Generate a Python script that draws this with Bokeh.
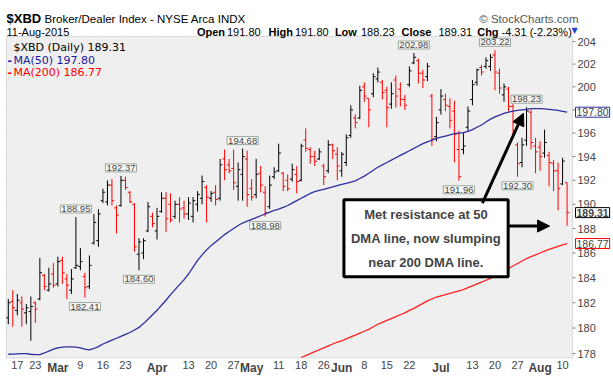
import math
import pandas as pd
from bokeh.plotting import figure
from bokeh.models import ColumnDataSource, Label, Arrow, NormalHead, Range1d, BoxAnnotation
from bokeh.embed import file_html
from bokeh.resources import INLINE

# ---------------- data ----------------
holidays = ["2015-02-16", "2015-04-03", "2015-05-25", "2015-07-03"]
date_str = [d.strftime("%Y-%m-%d") for d in pd.bdate_range("2015-02-12", "2015-08-11")
            if d.strftime("%Y-%m-%d") not in holidays]

opens = [
    180.8, 182.1, 181.4, 182.0, 181.2, 181.3, 182.0, 182.3, 184.2, 183.0,
    184.3, 183.5, 185.4, 183.9, 183.0, 184.8, 184.9, 184.1, 183.3, 186.8,
    187.0, 190.3, 190.2, 191.6, 189.7, 189.9, 192.0, 191.0, 190.0, 185.9,
    186.0, 187.8, 189.0, 187.8, 189.4, 190.5, 190.0, 189.0, 190.0, 189.7,
    189.2, 189.0, 190.0, 190.5, 191.4, 190.5, 191.0, 190.5, 193.8, 193.3,
    193.0, 191.5, 192.5, 193.8, 191.3, 190.8, 192.6, 191.0, 189.8, 192.3,
    192.8, 192.6, 192.0, 192.1, 192.5, 192.0, 195.4, 194.6, 194.0, 193.8,
    193.2, 192.8, 195.0, 194.2, 192.8, 193.5, 195.8, 197.3, 197.3, 200.0,
    199.0, 199.4, 200.7, 200.4, 199.7, 198.5, 200.6, 199.8, 198.9, 200.2,
    202.1, 202.3, 201.2, 200.9, 199.2, 195.7, 198.0, 198.9, 198.3, 197.9,
    194.6, 194.6, 196.5, 198.9, 200.4, 201.7, 201.8, 201.8, 202.8, 201.2,
    199.3, 199.8, 198.3, 195.0, 193.5, 195.4, 197.8, 194.9, 194.8, 194.3,
    194.1, 193.4, 192.8, 191.7, 191.80]
highs = [
    182.3, 183.0, 182.7, 182.5, 181.9, 182.5, 182.1, 185.6, 184.3, 184.8,
    185.2, 185.7, 185.7, 184.3, 184.7, 188.95, 186.4, 184.4, 185.8, 189.2,
    189.6, 191.3, 192.0, 192.1, 189.9, 192.37, 192.3, 191.1, 190.1, 187.2,
    187.2, 190.2, 189.3, 189.7, 191.0, 191.0, 190.9, 190.3, 190.6, 190.3,
    190.6, 190.6, 191.1, 192.4, 191.6, 191.1, 191.6, 193.8, 194.6, 193.8,
    194.6, 193.5, 194.68, 194.5, 192.1, 193.8, 193.2, 191.5, 192.4, 193.1,
    195.1, 192.7, 192.5, 193.4, 193.2, 195.1, 196.4, 194.8, 194.5, 194.7,
    193.4, 195.4, 195.1, 194.8, 194.4, 195.9, 198.4, 197.6, 200.1, 200.4,
    199.0, 201.2, 201.7, 200.6, 200.0, 200.4, 201.0, 200.4, 199.3, 201.8,
    202.98, 202.5, 201.5, 202.1, 199.4, 197.4, 199.8, 199.4, 199.0, 198.8,
    196.2, 196.0, 198.3, 200.6, 201.6, 201.9, 202.6, 202.9, 203.22, 201.6,
    200.3, 200.0, 198.5, 195.2, 195.6, 198.23, 198.0, 195.6, 195.3, 196.3,
    194.4, 193.7, 193.5, 193.9, 191.80]
lows = [
    180.3, 180.1, 181.0, 180.1, 180.3, 179.0, 180.4, 182.2, 183.0, 182.9,
    183.2, 183.3, 183.5, 182.3, 182.7, 184.7, 184.6, 182.41, 183.1, 186.7,
    186.5, 190.1, 189.9, 189.9, 187.6, 189.8, 191.2, 190.1, 186.1, 184.60,
    185.5, 187.7, 188.1, 187.1, 189.3, 187.7, 188.5, 188.8, 188.5, 188.8,
    188.7, 188.5, 189.4, 190.0, 188.5, 190.2, 189.9, 190.3, 192.0, 192.6,
    191.2, 190.3, 190.3, 189.8, 190.3, 190.5, 191.0, 188.98, 189.6, 192.1,
    192.7, 191.1, 191.1, 191.9, 190.9, 191.9, 194.4, 193.4, 193.2, 193.7,
    191.6, 192.6, 193.8, 192.0, 192.3, 193.2, 195.6, 196.4, 197.2, 198.7,
    196.5, 199.1, 200.4, 198.9, 196.5, 198.1, 198.2, 198.3, 198.0, 200.0,
    202.0, 200.3, 199.9, 200.5, 194.9, 195.3, 197.6, 197.9, 196.4, 193.5,
    191.96, 194.2, 196.2, 198.4, 200.1, 201.0, 201.6, 201.4, 199.7, 199.4,
    198.7, 197.9, 195.9, 192.30, 193.1, 194.9, 194.6, 192.6, 192.8, 193.9,
    191.5, 191.1, 189.5, 191.6, 188.23]
closes = [
    182.0, 181.6, 182.2, 181.5, 181.6, 181.7, 181.5, 184.4, 183.3, 183.5,
    183.4, 185.3, 184.4, 183.4, 183.9, 185.0, 185.3, 183.2, 185.0, 188.5,
    189.2, 191.0, 191.6, 190.3, 189.1, 192.0, 191.4, 190.2, 186.5, 186.9,
    187.0, 189.8, 188.4, 189.0, 190.5, 188.8, 188.7, 190.0, 189.6, 189.2,
    190.1, 190.3, 190.8, 191.9, 190.6, 190.9, 190.4, 193.3, 192.9, 192.8,
    191.8, 192.9, 194.0, 190.8, 190.6, 192.5, 191.6, 189.3, 191.6, 192.7,
    194.3, 191.5, 191.3, 192.9, 191.9, 194.9, 194.7, 194.0, 193.6, 194.4,
    192.3, 195.0, 194.5, 193.2, 194.2, 195.6, 198.0, 196.9, 199.7, 199.2,
    198.0, 200.9, 201.3, 199.5, 198.2, 199.4, 199.2, 198.9, 198.4, 201.4,
    202.6, 201.2, 200.6, 201.8, 195.5, 196.9, 199.2, 198.4, 197.1, 195.9,
    192.3, 194.9, 197.9, 200.2, 201.5, 201.3, 202.3, 202.6, 201.3, 199.9,
    200.0, 198.3, 196.2, 193.4, 195.0, 197.9, 195.2, 194.4, 194.0, 195.2,
    193.5, 192.8, 191.3, 193.62, 189.31]

ma50 = [
    177.95, 177.96, 177.98, 178.0, 178.0, 177.95, 177.92, 177.92, 178.05, 178.2,
    178.35, 178.45, 178.5, 178.52, 178.52, 178.5, 178.45, 178.35, 178.3, 178.4,
    178.55, 178.75, 178.9, 179.05, 179.2, 179.35, 179.5, 179.65, 179.85, 180.05,
    180.35, 180.7, 181.05, 181.4, 181.8, 182.2, 182.65, 183.05, 183.45, 183.85,
    184.3, 184.85, 185.4, 185.85, 186.25, 186.6, 186.9, 187.2, 187.5, 187.75,
    188.0, 188.25, 188.45, 188.6, 188.75, 188.9, 189.05, 189.2, 189.35, 189.5,
    189.6, 189.75, 189.9, 190.1, 190.3, 190.5, 190.7, 190.9, 191.05, 191.15,
    191.25, 191.35, 191.45, 191.55, 191.65, 191.75, 191.85, 191.95, 192.15, 192.35,
    192.6, 192.85, 193.1, 193.3, 193.5, 193.7, 193.9, 194.1, 194.3, 194.5,
    194.7, 194.9, 195.1, 195.25, 195.4, 195.55, 195.65, 195.75, 195.85, 195.95,
    196.0, 196.05, 196.15, 196.3, 196.5, 196.7, 196.95, 197.2, 197.4, 197.55,
    197.7, 197.8, 197.9, 197.95, 198.0, 198.05, 198.1, 198.1, 198.1, 198.08,
    198.05, 198.0, 197.95, 197.88, 197.80]

ma200_first_date = "2015-05-18"
ma200 = [
    177.7, 177.85, 178.0, 178.15, 178.3, 178.45, 178.6, 178.75,
    178.9, 179.0, 179.15, 179.3, 179.45, 179.6, 179.75, 179.9, 180.1, 180.3,
    180.45, 180.6, 180.75, 180.9, 181.05, 181.2, 181.4, 181.55, 181.75, 181.95,
    182.15, 182.3, 182.45, 182.55, 182.65, 182.75, 182.85, 182.95, 183.05, 183.2,
    183.35, 183.5, 183.65, 183.8, 183.95, 184.15, 184.35, 184.55, 184.75, 184.95,
    185.15, 185.35, 185.55, 185.7, 185.85, 186.0, 186.15, 186.3, 186.42, 186.54,
    186.66, 186.77]

tick_dates = ["2015-02-17", "2015-02-23", "2015-03-02", "2015-03-09", "2015-03-16",
              "2015-03-23", "2015-04-01", "2015-04-13", "2015-04-20", "2015-04-27",
              "2015-05-01", "2015-05-11", "2015-05-18", "2015-05-26", "2015-06-01",
              "2015-06-08", "2015-06-15", "2015-06-22", "2015-07-01", "2015-07-13",
              "2015-07-20", "2015-07-27", "2015-08-03", "2015-08-10"]
tick_labels = ["17", "23", "Mar", "9", "16", "23", "Apr", "13", "20", "27", "May", "11",
               "18", "26", "Jun", "8", "15", "22", "Jul", "13", "20", "27", "Aug", "10"]
ytick_values = [178, 180, 182, 184, 186, 188, 190, 192, 194, 196, 198, 200, 202, 204]

peak_dates = ["2015-03-06", "2015-03-20", "2015-04-29", "2015-06-23", "2015-07-20", "2015-07-29"]
trough_dates = ["2015-03-10", "2015-03-26", "2015-05-06", "2015-07-08", "2015-07-27"]

# ---------------- derived ----------------
pos = {d: i for i, d in enumerate(date_str)}
n = len(date_str)
xi = list(range(n))
colors = ["#000000" if i == 0 or closes[i] >= closes[i - 1] else "#ff0000" for i in xi]
ma200_x = list(range(pos[ma200_first_date], pos[ma200_first_date] + len(ma200)))
tick_idx = [pos[d] for d in tick_dates]
month_idx = [t for t, l in zip(tick_idx, tick_labels) if l.isalpha()]
day_idx = [t for t, l in zip(tick_idx, tick_labels) if not l.isalpha()]

# ---------------- layout geometry (canvas pixels) ----------------
W, H = 613, 376
CL, CR, CT, CB = 6.0, 572.0, 36.0, 357.5
x_lo, x_hi = -0.4, n + 0.2
y_lo, y_hi = 177.66, 204.45
ppx = (CR - CL) / (x_hi - x_lo)
k = math.log(y_hi / y_lo) / (CB - CT)
X0 = x_lo - CL / ppx
X1 = X0 + W / ppx
Y1 = y_hi * math.exp(CT * k)
Y0 = Y1 * math.exp(-H * k)


def cx(px):
    return X0 + px / ppx


def cy(py):
    return Y1 * math.exp(-py * k)


FONT = "Liberation Sans"

p = figure(width=W, height=H, title=None,
           x_range=Range1d(X0, X1), y_range=Range1d(Y0, Y1),
           y_axis_type="log", x_axis_location=None, y_axis_location=None,
           output_backend="svg", toolbar_location=None,
           min_border=0, min_border_left=0, min_border_right=0,
           min_border_top=0, min_border_bottom=0,
           background_fill_color="white", border_fill_color="white",
           outline_line_color=None)
p.grid.visible = False

# chart area background
p.add_layout(BoxAnnotation(left=x_lo, right=x_hi, bottom=y_lo, top=y_hi,
                           fill_color="#efefef", fill_alpha=1.0, line_color=None,
                           level="underlay"))
# grid lines
p.segment(x0=day_idx, y0=y_lo, x1=day_idx, y1=y_hi, line_color="#d0d0d0", level="underlay")
p.segment(x0=month_idx, y0=y_lo, x1=month_idx, y1=y_hi, line_color="#a9a9a9", level="underlay")
p.segment(x0=x_lo, y0=ytick_values, x1=x_hi, y1=ytick_values, line_color="#d0d0d0",
          level="underlay")
# small day ticks along the bottom edge
p.segment(x0=xi, y0=y_lo, x1=xi, y1=cy(CB - 2), line_color="#8a8a8a", level="underlay")

# OHLC bars
src = ColumnDataSource(dict(x=xi, xo=[i - 0.5 for i in xi], xc=[i + 0.5 for i in xi],
                            o=opens, h=highs, l=lows, c=closes, col=colors))
p.segment("x", "l", "x", "h", color="col", line_width=1, source=src)
p.segment("xo", "o", "x", "o", color="col", line_width=1, source=src)
p.segment("x", "c", "xc", "c", color="col", line_width=1, source=src)

# moving averages
p.line(xi, ma50, color="#2d2d9f", line_width=1.3)
p.line(ma200_x, ma200, color="#ff2020", line_width=1.3)

# chart border
p.add_layout(BoxAnnotation(left=x_lo, right=x_hi, bottom=y_lo, top=y_hi,
                           fill_color=None, line_color="#9a9a9a", line_width=1))

# right price scale: ticks and labels
p.segment(x0=x_hi, y0=ytick_values, x1=cx(CR + 3), y1=ytick_values, line_color="#808080")
for v in ytick_values:
    if abs(v - ma50[-1]) > 0.5:
        p.add_layout(Label(x=cx(CR + 5), y=v, text=f"{v}", text_align="left",
                           text_baseline="middle", text_font=FONT, text_font_size="11px"))

# date labels (month names bold)
for t, l in zip(tick_idx, tick_labels):
    is_month = l.isalpha()
    p.add_layout(Label(x=t, y=cy(CB + 3), text=l,
                       text_align="center", text_baseline="top",
                       text_font=FONT, text_font_size="12px" if is_month else "11px",
                       text_font_style="bold" if is_month else "normal"))

# value labels on peaks and troughs
for d in peak_dates:
    i = pos[d]
    p.add_layout(Label(x=i, y=highs[i], y_offset=4, text=f"{highs[i]:.2f}", text_align="center",
                       text_baseline="bottom", text_font=FONT, text_font_size="9.5px",
                       text_line_height=1.0,
                       border_line_color="#9aa89a", background_fill_color="#f8f8f8", padding=1))
for d in trough_dates:
    i = pos[d]
    p.add_layout(Label(x=i, y=lows[i], y_offset=-5, text=f"{lows[i]:.2f}", text_align="center",
                       text_baseline="top", text_font=FONT, text_font_size="9.5px",
                       text_line_height=1.0,
                       border_line_color="#9aa89a", background_fill_color="#f8f8f8", padding=1))

# last-value boxes on the right
for val, bc, bold in [(ma50[-1], "#2d2d9f", "normal"), (closes[-1], "#000000", "bold"),
                      (ma200[-1], "#ff0000", "normal")]:
    p.add_layout(Label(x=cx(CR + 3), y=val, text=f"{val:.2f}", text_align="left",
                       text_baseline="middle", text_font=FONT, text_font_size="10.5px",
                       text_font_style=bold, text_line_height=1.0, border_line_color=bc,
                       background_fill_color="white", padding=1))


# header texts
def head(text, px, py, size="11px", style="normal", color="#000000", align="left", font=FONT):
    p.add_layout(Label(x=cx(px), y=cy(py), text=text, text_align=align,
                       text_baseline="alphabetic", text_font=font, text_font_size=size,
                       text_font_style=style, text_color=color))


head("$XBD", 6, 18, size="13px", style="bold")
head("Broker/Dealer Index - NYSE Arca  INDX", 44, 18, size="11.5px")
head("\u00a9 StockCharts.com", 578, 18, size="11.5px", color="#555555", align="right")
head(pd.Timestamp(date_str[-1]).strftime("%d-%b-%Y"), 6, 31)
chg = closes[-1] - closes[-2]
pct = chg / closes[-2] * 100
row = [("Open", "bold", 196.4), (f"{opens[-1]:.2f}", "normal", 226.5),
       ("High", "bold", 268), (f"{highs[-1]:.2f}", "normal", 294.5),
       ("Low", "bold", 334.4), (f"{lows[-1]:.2f}", "normal", 360.5),
       ("Close", "bold", 401), (f"{closes[-1]:.2f}", "normal", 438),
       ("Chg", "bold", 476.7), (f"{chg:.2f} ({pct:.2f}%)", "normal", 501)]
for t, st, px in row:
    head(t, px, 31, style=st)
head("\u25bc", 571, 30, size="8px", color="#2040d0", font="DejaVu Sans")

# legend
head(f"$XBD (Daily) {closes[-1]:.2f}", 13, 47, size="11px", font="DejaVu Sans")
head("-", 7, 60, size="13px", style="bold", color="#1a1aa0")
head(f"MA(50) {ma50[-1]:.2f}", 13, 60, size="11px", color="#1a1aa0", font="DejaVu Sans")
head("-", 7, 72, size="13px", style="bold", color="#ff0000")
head(f"MA(200) {ma200[-1]:.2f}", 13, 72, size="11px", color="#ff0000", font="DejaVu Sans")

# comment box and arrows
p.add_layout(Label(x=92.7, y=187.2, text="Met resistance at 50\nDMA line, now slumping\nnear 200 DMA line.",
                   text_align="center", text_baseline="middle", text_font=FONT,
                   text_font_size="13px", text_font_style="bold", text_line_height=1.6,
                   border_line_color="black", border_line_width=3,
                   background_fill_color="white", padding=7))
p.add_layout(Arrow(end=NormalHead(size=12, fill_color="black", line_color="black"),
                   x_start=105.2, y_start=190.1, x_end=114.3, y_end=197.7,
                   line_width=3, line_color="black"))
p.add_layout(Arrow(end=NormalHead(size=12, fill_color="black", line_color="black"),
                   x_start=111.0, y_start=188.2, x_end=120.1, y_end=188.2,
                   line_width=3, line_color="black"))

open("out.html", "w").write(file_html(p, INLINE))
